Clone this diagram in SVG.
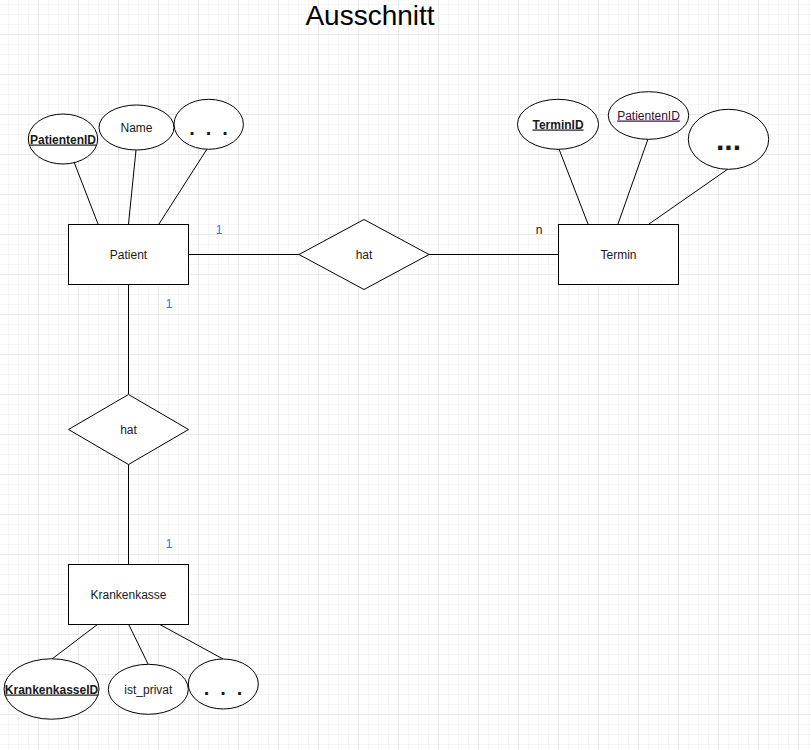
<svg xmlns="http://www.w3.org/2000/svg" width="811" height="750" viewBox="0 0 811 750">
<defs>
<pattern id="grid" x="-2" y="-6" width="40" height="40" patternUnits="userSpaceOnUse">
<path d="M10.5 0V40M20.5 0V40M30.5 0V40M0 10.5H40M0 20.5H40M0 30.5H40" stroke="#f5f5f5" stroke-width="1" fill="none"/>
<path d="M0.5 0V40M0 0.5H40" stroke="#eaeaea" stroke-width="1" fill="none"/>
</pattern>
<style>
.sh{fill:#fff;stroke:#000;stroke-width:1}
.ln{stroke:#000;stroke-width:1;fill:none}
text{font-family:"Liberation Sans",Arial,sans-serif;font-size:12px;fill:#1a1a1a;text-anchor:middle}
.b{font-weight:bold}
.u{text-decoration:underline}
.lbl{fill:#1f80e0}
.dots{font-weight:bold;font-size:20px;letter-spacing:2.7px}
</style>
</defs>
<rect width="811" height="750" fill="#fff"/>
<rect width="811" height="750" fill="url(#grid)"/>
<text x="370" y="25" style="font-size:28px;fill:#000">Ausschnitt</text>

<g id="connectors">
<line class="ln" x1="188" y1="254.5" x2="299" y2="254.5"/>
<line class="ln" x1="429" y1="254.5" x2="558" y2="254.5"/>
<line class="ln" x1="128.5" y1="284" x2="128.5" y2="394"/>
<line class="ln" x1="128.5" y1="464" x2="128.5" y2="564"/>
<line class="ln" x1="74" y1="162" x2="98" y2="224"/>
<line class="ln" x1="136" y1="150" x2="128.5" y2="224"/>
<line class="ln" x1="207" y1="149" x2="159" y2="224"/>
<line class="ln" x1="559" y1="149" x2="588" y2="224"/>
<line class="ln" x1="648" y1="139" x2="618" y2="224"/>
<line class="ln" x1="728" y1="169" x2="649" y2="224"/>
<line class="ln" x1="98" y1="624" x2="52" y2="659"/>
<line class="ln" x1="128.5" y1="624" x2="148" y2="664"/>
<line class="ln" x1="159" y1="624" x2="223" y2="659"/>
<text class="lbl" x="219" y="234">1</text>
<text x="539" y="234">n</text>
<text class="lbl" x="169" y="308">1</text>
<text class="lbl" x="169" y="548">1</text>
</g>

<g id="patient">
<rect class="sh" x="68.5" y="224.5" width="120" height="60"/>
<text x="128.5" y="258.5">Patient</text>
</g>
<g id="termin">
<rect class="sh" x="558.5" y="224.5" width="120" height="60"/>
<text x="618.5" y="258.5">Termin</text>
</g>
<g id="krankenkasse">
<rect class="sh" x="68.5" y="564.5" width="120" height="60"/>
<text x="128.5" y="598.5">Krankenkasse</text>
</g>
<g id="hat1">
<polygon class="sh" points="364,219.5 429,254.5 364,289.5 299,254.5"/>
<text x="364" y="258.5">hat</text>
</g>
<g id="hat2">
<polygon class="sh" points="128.5,394.5 188.5,429.5 128.5,464.5 68.5,429.5"/>
<text x="128.5" y="433.5">hat</text>
</g>

<g id="attr-patientenid">
<ellipse class="sh" cx="63" cy="139" rx="34.7" ry="25"/>
<text class="b u" x="63" y="143.5">PatientenID</text>
</g>
<g id="attr-name">
<ellipse class="sh" cx="136.5" cy="127.5" rx="37.5" ry="22.5"/>
<text x="136.5" y="131.5">Name</text>
</g>
<g id="attr-patient-more">
<ellipse class="sh" cx="208.7" cy="124.3" rx="34.7" ry="25"/>
<text class="dots" x="210" y="135">. . .</text>
</g>

<g id="attr-terminid">
<ellipse class="sh" cx="558" cy="124.3" rx="40.5" ry="25"/>
<text class="b u" x="558" y="128.5">TerminID</text>
</g>
<g id="attr-termin-patientenid">
<ellipse class="sh" cx="648.5" cy="115.5" rx="40.2" ry="23.8"/>
<text class="u" x="648.5" y="119.5" style="fill:#3a0a3a">PatientenID</text>
</g>
<g id="attr-termin-more">
<ellipse class="sh" cx="728.5" cy="139.3" rx="40.2" ry="30"/>
<text class="b" x="728.5" y="150" style="font-size:30px">...</text>
</g>

<g id="attr-krankenkasseid">
<ellipse class="sh" cx="51.5" cy="689" rx="47.5" ry="30.2"/>
<text class="b u" x="51.5" y="693.5">KrankenkasseID</text>
</g>
<g id="attr-ist-privat">
<ellipse class="sh" cx="148.3" cy="689.3" rx="40" ry="25"/>
<text x="148.3" y="693.5">ist_privat</text>
</g>
<g id="attr-kk-more">
<ellipse class="sh" cx="223.3" cy="684" rx="35" ry="25"/>
<text class="dots" x="224.5" y="695">. . .</text>
</g>
</svg>
